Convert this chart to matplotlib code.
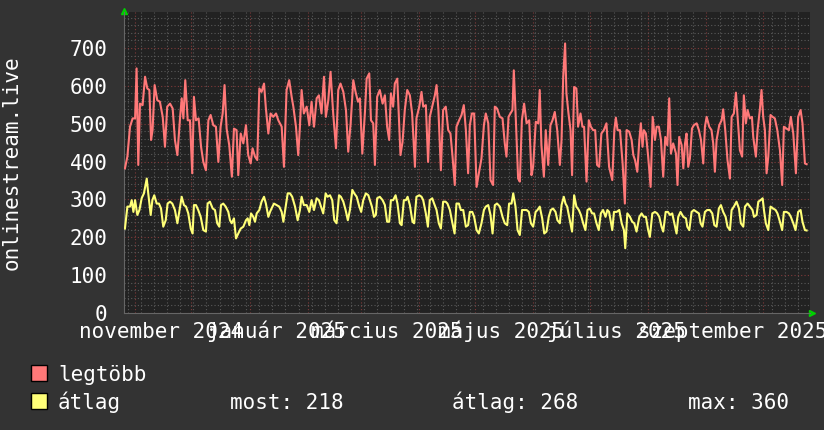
import pandas as pd
import matplotlib
matplotlib.use('Agg')
import matplotlib.pyplot as plt
import matplotlib.dates as mdates
from matplotlib.ticker import MultipleLocator
from matplotlib.patches import Rectangle

# Napok a kezdéstől (2024-10-26) és a leolvasott értékek
kezdet = pd.Timestamp('2024-10-26 03:00')

napok_max = [0.5, 1.8, 3.2, 4.6, 5.9, 6.7, 7.6, 8.5, 9.9, 11.2, 12.4, 13.5, 14.4, 15.2, 16.3, 17.7, 19.1, 20.6,
             21.8, 23.0, 24.5, 25.9, 27.1, 28.4, 29.8, 30.7, 31.6, 32.6, 33.9, 35.1, 36.3, 37.2, 38.3, 39.7,
             41.0, 42.2, 43.6, 44.9, 46.1, 47.5, 48.9, 50.2, 51.4, 52.5, 53.5, 54.6, 56.0, 57.4, 58.5, 59.9,
             60.8, 62.1, 63.5, 64.9, 66.1, 67.4, 68.4, 69.7, 70.9, 72.0, 73.2, 74.5, 75.5, 76.8, 78.0, 79.4,
             80.9, 82.1, 83.9, 85.1, 86.5, 87.9, 89.2, 90.1, 91.5, 92.7, 93.6, 94.5, 95.7, 97.2, 98.6, 99.8,
             101.1, 102.5, 103.7, 105.1, 106.4, 107.4, 108.7, 109.9, 111.3, 112.8, 114.0, 115.2, 116.7, 118.1,
             119.3, 120.6, 122.0, 123.2, 124.5, 125.5, 126.8, 128.2, 129.1, 130.5, 131.4, 132.6, 133.5, 134.7,
             136.1, 137.6, 138.8, 140.0, 141.1, 142.0, 143.2, 144.1, 145.4, 146.4, 147.1, 148.2, 149.4, 150.7,
             152.1, 153.3, 154.8, 155.6, 157.1, 158.3, 159.2, 160.6, 161.8, 162.7, 164.2, 165.4, 166.3, 167.3,
             168.6, 169.8, 171.2, 172.5, 173.7, 174.8, 176.0, 176.9, 178.3, 179.6, 180.8, 181.9, 183.1, 184.0,
             185.1, 186.3, 187.6, 188.8, 190.2, 191.5, 192.5, 193.8, 195.0, 196.4, 197.3, 198.5, 200.0, 201.4,
             202.6, 203.5, 204.6, 205.6, 206.7, 207.4, 208.5, 209.7, 210.6, 211.7, 212.9, 214.2, 215.6, 216.8,
             217.7, 219.1, 220.4, 221.2, 222.1, 223.4, 224.4, 225.7, 226.9, 228.0, 229.2, 230.5, 231.9, 232.8,
             233.7, 234.7, 235.4, 236.5, 237.6, 238.4, 239.5, 240.7, 241.6, 242.9, 243.9, 244.8, 246.1, 247.3,
             248.4, 249.6, 250.7, 251.7, 252.8, 254.0, 255.3, 256.7, 258.1, 259.8, 260.9, 261.7, 262.6, 263.9,
             265.3, 266.5, 267.4, 268.8, 270.1, 271.0, 271.9, 273.1, 274.2, 275.0, 275.9, 276.6, 277.7, 278.9,
             280.2, 281.3, 282.5, 283.4, 284.6, 285.7, 286.9, 288.0, 289.1, 290.1, 291.0, 292.2, 293.7, 294.5,
             295.4, 296.7, 297.6, 298.5, 299.3, 300.2, 301.1, 302.2, 303.2, 304.7, 305.9, 307.0, 308.2, 309.1,
             310.0, 311.4, 312.6, 313.5, 314.4, 315.3, 316.7, 318.0, 318.8, 319.9, 321.1, 322.4, 323.3, 324.5,
             325.6, 326.5, 327.7, 328.9, 329.8, 330.9, 331.8, 333.0, 334.1, 334.8, 336.2, 337.1, 338.3, 339.2,
             340.1, 341.0, 341.9, 342.8, 344.0, 345.1, 346.3, 347.6, 349.0, 350.2, 351.1, 352.5, 353.8, 354.8,
             356.1, 357.5, 358.7, 360.0, 361.0, 362.3, 363.2]
legtobb = [382, 413, 492, 514, 514, 646, 391, 553, 549, 624, 593, 589, 457, 483, 602, 562, 558, 518,
           439, 545, 553, 540, 457, 417, 514, 567, 514, 615, 509, 509, 369, 571, 509, 514,
           439, 399, 377, 509, 523, 496, 492, 399, 492, 527, 602, 487, 443, 360, 487, 483,
           364, 474, 448, 496, 417, 395, 435, 413, 404, 593, 584, 606, 540, 474, 527, 518,
           527, 509, 492, 386, 589, 615, 571, 545, 492, 417, 492, 589, 527, 545, 496, 558,
           492, 567, 575, 527, 624, 518, 562, 637, 527, 435, 589, 606, 584, 536,
           426, 501, 615, 584, 558, 567, 421, 531, 619, 633, 509, 501, 391, 571,
           589, 553, 575, 492, 457, 580, 545, 606, 619, 501, 417, 452, 536, 589,
           575, 527, 386, 514, 545, 584, 545, 549, 399, 518, 549, 575, 602, 536,
           377, 536, 545, 483, 474, 413, 338, 492, 509, 523, 549, 483, 369, 496,
           527, 527, 333, 369, 408, 496, 527, 501, 351, 338, 545, 540, 518, 514,
           448, 413, 518, 527, 536, 641, 509, 355, 347, 509, 553, 501, 509, 364,
           386, 505, 501, 589, 443, 360, 483, 391, 496, 509, 531, 483, 391, 457,
           624, 712, 580, 527, 483, 364, 597, 593, 492, 527, 492, 492, 347, 509,
           492, 483, 483, 391, 386, 474, 483, 501, 386, 351, 483, 516, 483, 483,
           395, 289, 483, 479, 457, 417, 404, 373, 457, 501, 439, 483, 474, 413,
           333, 518, 457, 492, 492, 457, 360, 465, 443, 567, 421, 448, 421, 338,
           465, 443, 382, 448, 474, 386, 408, 487, 496, 501, 483, 457, 395, 492,
           518, 492, 483, 448, 373, 457, 496, 509, 538, 483, 404, 355, 518, 527,
           582, 518, 430, 413, 575, 501, 536, 514, 518, 465, 413, 483, 536, 589,
           518, 483, 369, 413, 523, 518, 514, 483, 430, 338, 492, 487, 483, 518,
           474, 369, 518, 536, 501, 395, 393]

napok_atlag = [0.5, 1.8, 3.2, 4.1, 5.0, 5.9, 7.1, 8.2, 9.4, 10.6, 12.1, 12.9, 14.2, 15.1, 16.1, 17.4, 18.6,
               19.7, 20.9, 22.2, 23.2, 24.5, 25.7, 27.1, 28.4, 29.4, 30.7, 31.9, 33.0, 34.2, 35.5, 36.5,
               37.2, 38.3, 39.5, 40.8, 42.2, 43.6, 44.5, 45.7, 47.2, 48.4, 49.6, 50.7, 51.6, 52.8, 54.1,
               55.5, 56.4, 57.3, 58.5, 59.6, 60.8, 62.1, 63.5, 64.9, 65.8, 66.7, 67.6, 68.8, 69.7, 70.6,
               72.0, 73.2, 74.5, 75.5, 76.8, 77.7, 78.5, 79.8, 81.2, 82.6, 83.9, 84.8, 86.0, 87.1, 88.3,
               89.5, 91.0, 92.4, 93.6, 94.5, 95.7, 97.2, 98.6, 99.8, 101.1, 102.5, 103.7, 104.8, 106.0,
               107.3, 108.3, 109.6, 110.8, 111.9, 113.1, 114.4, 115.4, 116.7, 117.9, 119.1, 120.2, 121.5,
               122.5, 123.8, 125.2, 126.2, 127.3, 128.7, 130.0, 131.9, 133.0, 134.0, 134.7, 136.1, 137.6,
               138.8, 140.0, 141.1, 142.0, 143.2, 144.5, 145.5, 146.8, 147.7, 148.9, 150.0, 150.9, 152.1,
               153.5, 154.4, 155.6, 157.1, 158.3, 159.2, 160.6, 161.7, 162.7, 164.0, 165.0, 166.3, 167.5,
               168.6, 169.8, 171.1, 172.1, 173.4, 174.6, 175.9, 176.9, 178.2, 179.2, 180.5, 181.9, 183.1,
               184.0, 185.3, 186.3, 187.6, 188.8, 190.2, 191.5, 192.5, 193.8, 195.0, 196.1, 197.3, 198.5,
               200.0, 201.4, 202.6, 203.9, 204.9, 206.2, 207.1, 208.3, 209.4, 210.6, 211.8, 212.9, 214.2,
               215.4, 216.5, 217.7, 219.0, 220.0, 221.2, 222.5, 223.6, 224.8, 226.0, 227.1, 228.3, 229.6,
               230.6, 231.9, 232.8, 234.0, 234.9, 235.8, 237.2, 238.4, 239.5, 240.7, 242.0, 243.1, 244.3,
               245.5, 246.6, 247.8, 249.1, 250.1, 251.4, 252.6, 253.7, 254.9, 256.2, 257.2, 258.1, 259.8,
               260.7, 262.1, 263.5, 264.8, 266.0, 266.7, 267.8, 269.2, 270.4, 271.5, 272.7, 274.2, 275.4,
               276.6, 277.7, 278.9, 279.8, 281.1, 282.5, 283.7, 284.8, 286.0, 286.9, 288.2, 289.4, 290.5,
               291.7, 292.8, 294.0, 294.9, 296.1, 297.6, 299.0, 299.7, 300.8, 302.0, 303.2, 304.7, 305.9,
               306.8, 307.8, 309.1, 310.3, 311.7, 313.0, 314.1, 315.3, 316.5, 317.6, 318.8, 320.1, 321.1,
               322.4, 323.3, 324.5, 325.9, 327.2, 328.2, 329.5, 330.4, 331.8, 333.0, 334.4, 335.2, 336.6,
               337.5, 338.7, 339.8, 340.5, 341.5, 342.8, 344.0, 345.4, 346.7, 347.7, 349.0, 350.2, 351.1,
               352.5, 353.8, 354.8, 356.1, 357.3, 358.7, 360.0, 361.0, 362.3, 363.2]
atlag = [223, 281, 281, 298, 267, 298, 259, 272, 303, 316, 355, 316, 259, 298, 311, 289, 289,
         276, 228, 245, 289, 294, 289, 272, 237, 267, 307, 285, 281, 263, 223, 210,
         285, 285, 272, 254, 219, 215, 289, 294, 276, 272, 237, 228, 285, 289, 281,
         267, 245, 237, 250, 197, 210, 223, 228, 245, 250, 232, 263, 254, 241, 263,
         272, 294, 307, 289, 254, 267, 276, 289, 285, 281, 267, 241, 281, 316, 316,
         307, 281, 245, 272, 307, 285, 285, 267, 298, 272, 303, 298, 281, 263,
         316, 307, 311, 298, 245, 237, 311, 307, 294, 272, 245, 272, 325,
         316, 307, 281, 267, 298, 316, 311, 281, 254, 259, 303, 307, 298,
         285, 241, 241, 298, 298, 311, 289, 237, 232, 298, 298, 307, 285,
         241, 237, 307, 311, 307, 298, 263, 228, 298, 303, 289, 272, 237,
         223, 294, 294, 289, 272, 241, 210, 289, 289, 272, 272, 228, 232,
         267, 267, 254, 219, 210, 237, 272, 281, 285, 259, 210, 285, 289,
         281, 254, 237, 232, 289, 289, 316, 281, 219, 206, 272, 272, 272,
         267, 237, 228, 267, 272, 281, 250, 210, 215, 254, 272, 276, 267,
         245, 237, 285, 307, 289, 281, 245, 215, 311, 281, 272, 259, 237,
         219, 272, 276, 263, 263, 237, 219, 263, 272, 254, 272, 267, 219,
         267, 267, 272, 237, 219, 171, 263, 254, 241, 237, 215, 254, 263,
         254, 254, 219, 201, 263, 267, 263, 254, 228, 215, 267, 267, 259,
         263, 237, 210, 254, 267, 254, 250, 228, 219, 267, 272, 267, 263,
         237, 228, 267, 272, 272, 263, 232, 228, 276, 285, 267, 254, 228,
         219, 272, 281, 294, 276, 237, 228, 281, 289, 281, 272, 254, 259,
         294, 298, 303, 272, 237, 219, 281, 276, 272, 263, 241, 219, 267,
         267, 263, 254, 237, 219, 267, 272, 241, 219, 218]

# Tengelyfeliratok
honap_cimkek = ['november 2024', 'január 2025', 'március 2025', 'május 2025', 'július 2025', 'szeptember 2025']
honap_kozepek = ['2024-11-15', '2025-01-15', '2025-03-15', '2025-05-15', '2025-07-15', '2025-09-15']

# Jelmagyarázat
jelmagyarazat = ['legtöbb', 'átlag']
most, atl, maximum = 218, 268, 360

szin_max = '#ff7878'
szin_atl = '#ffff78'
hatter = '#333333'
racs_hatter = '#222222'

plt.rcParams['font.family'] = ['DejaVu Sans Mono']
plt.rcParams['font.size'] = 15

fig = plt.figure(figsize=(8.24, 4.30), dpi=100, facecolor=hatter)
ax = fig.add_axes([124 / 824, 117 / 430, 686 / 824, 301 / 430], facecolor=racs_hatter)

x_max = kezdet + pd.to_timedelta(napok_max, unit='D')
x_atl = kezdet + pd.to_timedelta(napok_atlag, unit='D')
ax.plot(x_max, legtobb, color=szin_max, lw=1.5, zorder=3)
ax.plot(x_atl, atlag, color=szin_atl, lw=1.5, zorder=3)

ax.set_xlim(kezdet, kezdet + pd.Timedelta(days=365))
ax.set_ylim(0, 795)

# rácsvonalak
ax.xaxis.set_major_locator(mdates.MonthLocator())
ax.xaxis.set_minor_locator(mdates.WeekdayLocator(byweekday=mdates.MO))
ax.yaxis.set_major_locator(MultipleLocator(100))
ax.yaxis.set_minor_locator(MultipleLocator(20))
ax.grid(which='major', color='#803a3a', ls=(0, (1, 2)), lw=0.8, zorder=1)
ax.grid(which='minor', color='#5a5a5a', ls=(0, (1, 2)), lw=0.8, zorder=0)
ax.set_axisbelow(True)

ax.tick_params(axis='x', which='both', length=0, labelbottom=False)
ax.tick_params(axis='y', which='both', length=0, colors='white', pad=12)
ax.tick_params(axis='y', labelcolor='white')

for side in ['top', 'right']:
    ax.spines[side].set_visible(False)
for side in ['left', 'bottom']:
    ax.spines[side].set_color('#666666')

# zöld nyilak a tengelyek végén
ax.plot([1.003], [0], marker='>', color='#00d000', ms=5, transform=ax.transAxes, clip_on=False)
ax.plot([0], [1.003], marker='^', color='#00d000', ms=5, transform=ax.transAxes, clip_on=False)

# hónapnevek közös alapvonalon
for cimke, kozep in zip(honap_cimkek, honap_kozepek):
    ax.text(pd.Timestamp(kozep), -25 / 301, cimke, transform=ax.get_xaxis_transform(),
            ha='center', va='baseline', color='white', clip_on=False)

fig.text(12 / 824, 1 - 163 / 430, 'onlinestream.live', rotation=90, ha='center', va='center', color='white')

# jelmagyarázat
for i, (nev, szin) in enumerate(zip(jelmagyarazat, [szin_max, szin_atl])):
    yc = 1 - (373 + 28 * i) / 430
    fig.patches.append(Rectangle((31 / 824, yc - 8 / 430), 16 / 824, 16 / 430, transform=fig.transFigure,
                                 facecolor=szin, edgecolor='black', lw=1))
    fig.text(58 / 824, 1 - (381 + 28 * i) / 430, nev, ha='left', va='baseline', color='white')

yb = 1 - 409 / 430
fig.text(230 / 824, yb, f'most: {most}', ha='left', va='baseline', color='white')
fig.text(452 / 824, yb, f'átlag: {atl}', ha='left', va='baseline', color='white')
fig.text(688 / 824, yb, f'max: {maximum}', ha='left', va='baseline', color='white')

fig.savefig('out.png', dpi=100, facecolor=hatter)
